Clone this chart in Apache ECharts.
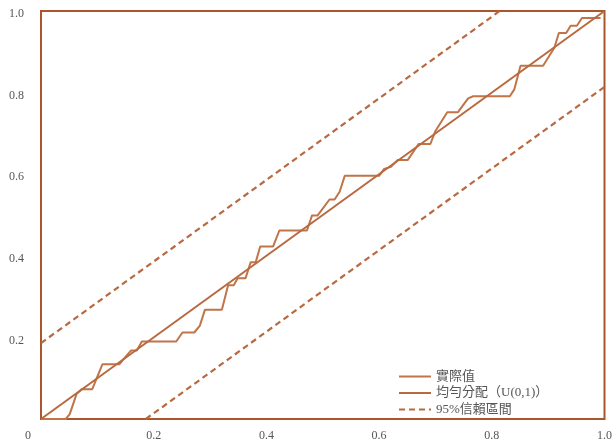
<!DOCTYPE html>
<html>
<head>
<meta charset="utf-8">
<script src="https://cdn.jsdelivr.net/npm/echarts@6/dist/echarts.min.js"></script>
<style>html,body{margin:0;padding:0;background:#fff}#c{width:615px;height:442px}</style>
</head>
<body>
<div id="c"></div>
<script>
const ecdfX = [0, 0.044, 0.051, 0.063, 0.072, 0.091, 0.098, 0.109, 0.139, 0.146, 0.160, 0.170, 0.179, 0.240, 0.251, 0.272, 0.282, 0.291, 0.321, 0.332, 0.342, 0.349, 0.363, 0.372, 0.381, 0.389, 0.412, 0.423, 0.472, 0.481, 0.491, 0.512, 0.521, 0.530, 0.539, 0.600, 0.609, 0.621, 0.633, 0.651, 0.670, 0.691, 0.700, 0.721, 0.740, 0.758, 0.767, 0.832, 0.840, 0.851, 0.891, 0.911, 0.919, 0.932, 0.940, 0.951, 0.960, 0.993];
const ecdfY = [0, 0, 0.012, 0.061, 0.073, 0.073, 0.097, 0.134, 0.134, 0.146, 0.168, 0.168, 0.190, 0.190, 0.212, 0.212, 0.229, 0.268, 0.268, 0.328, 0.328, 0.345, 0.345, 0.384, 0.384, 0.423, 0.423, 0.462, 0.462, 0.499, 0.499, 0.538, 0.538, 0.557, 0.596, 0.596, 0.613, 0.618, 0.635, 0.635, 0.674, 0.674, 0.706, 0.752, 0.752, 0.786, 0.791, 0.791, 0.808, 0.866, 0.866, 0.910, 0.946, 0.946, 0.964, 0.964, 0.983, 0.983];
const uniformX = [0, 1];
const uniformY = [0, 1];
const upperX = [0, 0.814];
const upperY = [0.186, 1];
const lowerX = [0.186, 1];
const lowerY = [0, 0.814];
const xTicks = [0, 0.2, 0.4, 0.6, 0.8, 1.0];
const yTicks = [0.2, 0.4, 0.6, 0.8, 1.0];
const names = ['實際值', '均勻分配（U(0,1)）', '95%信賴區間'];

const zip = (a, b) => a.map((v, i) => [v, b[i]]);
const FONT = '"Liberation Serif", "Noto Sans CJK TC", serif';
const lineColor = '#b9693f';
const frameColor = '#a9552e';

const chart = echarts.init(document.getElementById('c'), null, {renderer: 'canvas'});
chart.setOption({
  animation: false,
  backgroundColor: '#fff',
  grid: {left: 41, right: 4, top: 11, bottom: 20, show: true, borderColor: frameColor, borderWidth: 2, containLabel: false},
  xAxis: {
    type: 'value', min: 0, max: 1, interval: 0.2,
    axisLine: {show: false}, axisTick: {show: false}, splitLine: {show: false},
    axisLabel: {
      margin: 11, color: '#555', fontFamily: FONT, fontSize: 12,
      formatter: v => {
        const hit = xTicks.find(t => Math.abs(t - v) < 1e-6);
        if (hit === undefined) return '';
        return hit === 0 ? '{z|0}' : hit.toFixed(1);
      },
      rich: {z: {padding: [0, 26, 0, 0], color: '#555', fontFamily: FONT, fontSize: 12}}
    }
  },
  yAxis: {
    type: 'value', min: 0, max: 1, interval: 0.2,
    axisLine: {show: false}, axisTick: {show: false}, splitLine: {show: false},
    axisLabel: {
      margin: 17, color: '#555', fontFamily: FONT, fontSize: 12,
      formatter: v => {
        const hit = yTicks.find(t => Math.abs(t - v) < 1e-6);
        return hit === undefined ? '' : '{s|' + hit.toFixed(1) + '}';
      },
      rich: {s: {padding: [6, 0, 0, 0], color: '#555', fontFamily: FONT, fontSize: 12}}
    }
  },
  legend: {
    orient: 'vertical', left: 393, top: 365,
    itemWidth: 32, itemHeight: 12, itemGap: 3.5,
    itemStyle: {opacity: 0},
    textStyle: {color: '#555', fontFamily: FONT, fontSize: 13},
    data: names
  },
  series: [
    {name: names[0], type: 'line', data: zip(ecdfX, ecdfY), symbol: 'none',
     lineStyle: {color: '#c07448', width: 2}, itemStyle: {color: '#c07448'}},
    {name: names[1], type: 'line', data: zip(uniformX, uniformY), symbol: 'none',
     lineStyle: {color: lineColor, width: 2}, itemStyle: {color: lineColor}},
    {name: names[2], type: 'line', data: zip(upperX, upperY), symbol: 'none',
     lineStyle: {color: lineColor, width: 2.2, type: [6, 4]}, itemStyle: {color: lineColor}},
    {name: names[2], type: 'line', data: zip(lowerX, lowerY), symbol: 'none',
     lineStyle: {color: lineColor, width: 2.2, type: [6, 4]}, itemStyle: {color: lineColor}}
  ]
});
</script>
</body>
</html>
